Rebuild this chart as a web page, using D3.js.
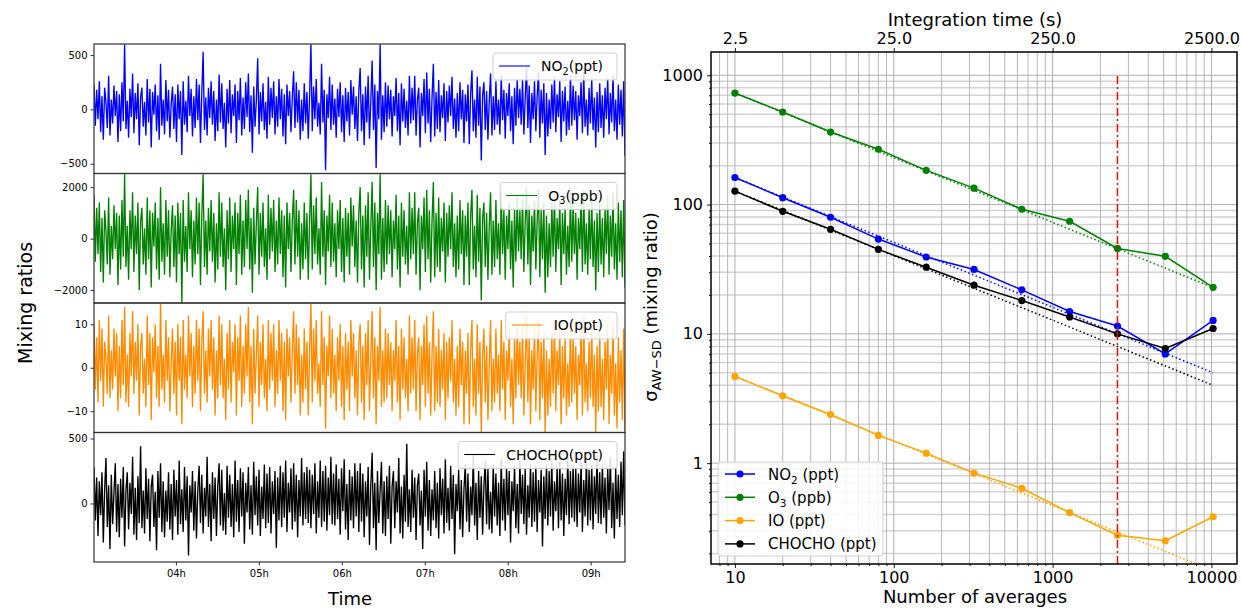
<!DOCTYPE html>
<html>
<head>
<meta charset="utf-8">
<script src="https://cdn.jsdelivr.net/npm/d3@7"></script>
<style>
  body { margin: 0; background: #fff; }
  svg text { font-family: "DejaVu Sans", sans-serif; fill: #000; }
</style>
</head>
<body>
<div id="chart"></div>
<script>
// ---------- left: time series (evenly sampled between timeStart and timeEnd)
const timeStart = '03:00:45';
const timeEnd = '09:24:50';
const hourTicks = ['04:00:00', '05:00:00', '06:00:00', '07:00:00', '08:00:00', '09:00:00'];

const no2Series = [
  230,-150,180,-90,260,-210,120,-280,200,60,-170,310,-240,90,-130,220,-60,170,-300,140,
  -200,250,-110,600,-180,80,-260,190,-70,330,-220,150,-90,240,-330,110,200,-160,70,-240,
  280,-120,190,-350,160,-50,230,-200,130,-280,420,-150,90,-230,270,-110,180,-260,50,210,
  -180,140,-300,230,-90,170,-420,260,-140,80,-210,310,-60,190,-250,120,-170,280,-100,230,
  -310,150,530,-190,110,-240,200,-80,260,-140,170,-290,90,-200,320,-120,240,-180,60,-350,
  190,-130,270,-220,140,-60,230,-310,170,-100,290,-240,110,-180,250,-70,330,-210,130,-400,
  210,-160,90,470,-230,160,-110,240,-190,70,-270,300,-140,200,-80,260,-230,120,-160,280,
  -90,190,-250,140,-320,230,-60,170,-210,110,350,-170,250,-120,180,-280,90,-200,240,-130,
  160,-270,120,600,-200,210,-90,280,-160,60,-230,420,-120,180,-560,140,-80,300,-190,230,
  -140,100,-260,190,-70,250,-210,130,-300,200,-110,160,-240,270,-50,210,-180,120,-290,170,
  380,-200,140,-330,210,-120,310,-270,80,450,-190,230,-540,170,-90,600,-280,130,-210,250,
  -160,220,-90,180,-250,120,-60,290,-200,150,-330,240,-110,190,-170,80,-240,310,-130,200,
  -100,310,-240,90,200,-350,150,-60,280,-220,340,-130,190,-300,110,420,-250,160,-180,270,
  -210,130,-80,240,-290,170,-120,220,-60,300,-180,100,-260,150,-200,250,-90,180,-310,140,
  -110,230,-320,140,360,-200,90,-260,300,-150,210,-470,130,250,-190,170,-280,80,330,-240,
  120,-190,260,-140,90,-230,310,-100,180,-270,150,-60,240,-200,120,-320,200,-150,280,-80,
  190,-140,280,-230,100,390,-170,220,-310,150,-90,260,-200,120,340,-260,180,-130,240,-420,
  150,-250,90,-180,230,-120,300,-210,140,-70,260,-300,170,-110,210,-240,80,-190,310,-150,
  220,-100,170,-280,130,-60,250,-220,340,-160,90,-240,200,-130,280,-190,110,-350,160,-210,
  240,-170,130,-260,200,-90,290,-230,150,-120,310,-200,90,-280,230,-140,180,-250,260,-430
];
const o3Series = [
  1700,-900,1200,-600,1400,-1300,800,-1700,1100,300,-1000,1600,-1400,500,-800,1300,-400,1000,-1800,900,
  -1200,1500,-700,2500,-1100,500,-1600,1100,-400,1800,-1300,900,-600,1400,-2000,700,1200,-1000,400,-1400,
  1600,-800,1100,-1900,1000,-300,1400,-1200,800,-1600,2000,-900,600,-1400,1500,-700,1100,-1500,300,1300,
  -1100,900,-1700,1400,-600,1000,-2500,1500,-900,500,-1300,1800,-400,1100,-1500,700,-1000,1600,-600,1400,
  -1800,900,2500,-1100,700,-1400,1200,-500,1500,-900,1000,-1700,600,-1200,1800,-700,1400,-1100,400,-2000,
  1100,-800,1600,-1300,900,-400,1400,-1800,1000,-600,1700,-1400,700,-1100,1500,-400,1900,-1200,800,-2100,
  1200,-1000,600,2000,-1400,1000,-700,1400,-1100,400,-1600,1700,-800,1200,-500,1500,-1300,700,-1000,1600,
  -600,1100,-1500,900,-1900,1400,-400,1000,-1300,700,1900,-1000,1500,-700,1100,-1600,600,-1200,1400,-800,
  1000,-1600,700,2500,-1200,1300,-600,1600,-1000,400,-1400,2200,-700,1100,-1800,900,-500,1700,-1100,1400,
  -900,600,-1500,1100,-400,1500,-1300,800,-1700,1200,-700,1000,-1400,1600,-300,1300,-1100,700,-1700,1000,
  2000,-1200,900,-1900,1300,-700,1800,-1600,500,2200,-1100,1400,-2000,1000,-600,2500,-1600,800,-1300,1500,
  -1000,1300,-600,1100,-1500,700,-400,1700,-1200,900,-1900,1400,-700,1100,-1000,500,-1400,1800,-800,1200,
  -600,1800,-1400,600,1200,-2000,900,-400,1600,-1300,1900,-800,1100,-1700,700,2200,-1500,1000,-1100,1600,
  -1300,800,-500,1400,-1700,1000,-700,1300,-400,1800,-1100,600,-1500,900,-1200,1500,-600,1100,-1800,900,
  -700,1400,-1800,900,1900,-1200,500,-1500,1700,-900,1200,-2400,800,1400,-1100,1000,-1600,500,1800,-1400,
  700,-1100,1500,-800,600,-1400,1800,-600,1100,-1600,900,-400,1400,-1200,700,-1900,1200,-900,1600,-500,
  1100,-800,1600,-1300,600,2000,-1000,1300,-1800,900,-500,1500,-1200,700,1900,-1500,1100,-800,1400,-2100,
  900,-1500,600,-1100,1400,-700,1700,-1300,800,-400,1500,-1800,1000,-600,1200,-1400,500,-1100,1800,-900,
  1300,-600,1000,-1600,800,-400,1500,-1300,1900,-1000,600,-1400,1200,-800,1600,-1100,700,-2000,1000,-1300,
  1400,-1000,800,-1500,1200,-600,1700,-1400,900,-700,1800,-1200,600,-1600,1400,-900,1100,-1500,1500,-1900
];
const ioSeries = [
  10,-5,7,-8,11,-3,9,-9,6,2,-6,12,-7,4,-5,9,-2,8,-10,5,
  -7,11,-4,14,-8,3,-9,8,-2,13,-6,6,-3,10,-11,5,8,-6,2,-9,
  12,-4,8,-12,7,-1,10,-7,5,-9,15,-5,3,-8,11,-3,7,-10,1,9,
  -6,6,-11,10,-3,7,-13,11,-5,3,-7,12,-2,8,-9,5,-6,11,-3,9,
  -10,6,13,-6,4,-8,9,-2,11,-5,7,-11,4,-7,12,-4,10,-7,2,-12,
  8,-5,11,-8,6,-1,10,-11,7,-3,12,-9,5,-6,10,-2,14,-8,5,-13,
  9,-6,3,12,-9,6,-4,10,-7,2,-10,11,-5,8,-3,10,-9,4,-6,11,
  -3,8,-10,6,-12,9,-2,7,-8,4,13,-6,10,-4,7,-11,3,-8,9,-5,
  6,-11,4,15,-8,9,-3,11,-6,1,-9,13,-4,7,-14,5,-2,12,-7,9,
  -6,3,-10,7,-3,10,-9,5,-12,8,-5,6,-10,11,-2,8,-7,4,-11,6,
  10,-8,5,-12,8,-4,11,-10,2,13,-7,7,-13,5,-3,14,-9,4,-8,9,
  -7,8,-4,6,-10,4,-3,11,-8,5,-12,9,-5,7,-7,2,-10,12,-6,7,
  -5,11,-10,3,7,-12,5,-4,10,-9,12,-6,6,-11,3,13,-10,5,-8,9,
  -9,4,-5,8,-12,6,-7,7,-3,11,-8,2,-11,5,-9,9,-4,6,-13,4,
  -6,8,-13,4,11,-9,2,-11,10,-6,6,-15,3,9,-8,5,-12,1,11,-10,
  2,-8,9,-6,3,-10,11,-5,6,-12,4,-3,9,-9,2,-13,7,-7,10,-4,
  6,-7,10,-11,1,12,-8,7,-13,4,-5,9,-10,3,11,-12,6,-7,8,-15,
  4,-11,2,-9,8,-6,11,-10,4,-4,9,-13,5,-7,7,-11,1,-9,10,-8,
  7,-6,5,-12,3,-4,9,-11,12,-8,1,-10,6,-7,10,-9,3,-15,5,-10,
  8,-9,2,-12,6,-5,10,-13,3,-6,11,-11,1,-14,7,-8,4,-12,9,-15
];
const chochoSeries = [
  280,-130,200,-250,170,-90,240,-300,110,350,-180,140,-350,220,-160,80,310,-220,150,-260,
  190,-110,280,-330,100,240,-200,160,-80,360,-240,120,-280,210,-150,440,-190,100,-230,270,
  -120,190,-290,130,220,-180,90,-360,250,-110,310,-220,170,-260,100,-140,240,-200,150,-280,
  260,-100,180,-240,330,-160,110,-220,280,-130,210,-400,140,-70,250,-210,170,-270,100,290,
  -150,220,-230,120,-100,360,-180,150,-290,240,-120,200,-250,130,310,-170,260,-210,80,-240,
  290,-110,220,-180,150,-260,330,-140,180,-220,270,-100,240,-310,160,-70,280,-200,140,-240,
  320,-90,210,-170,260,-250,130,-120,300,-190,230,-150,280,-230,170,-80,250,-340,200,-130,
  290,-180,240,-110,330,-220,160,-70,270,-200,310,-140,220,-260,180,-100,350,-170,240,-120,
  280,-150,260,-190,220,-80,310,-230,170,-110,330,-180,250,-140,290,-210,200,-90,360,-160,
  230,-170,300,-120,190,-240,270,-60,340,-200,150,-280,260,-130,210,-190,310,-100,250,-220,
  310,-140,230,-260,170,-100,280,-320,140,390,-190,160,-360,250,-150,100,320,-230,170,-250,
  210,-120,290,-310,130,250,-190,170,-70,350,-230,130,-270,220,-140,460,-180,110,-220,260,
  -110,200,-280,140,230,-170,100,-350,260,-100,320,-210,180,-250,110,-130,250,-190,160,-270,
  270,-90,190,-230,340,-150,120,-210,290,-120,220,-390,150,-60,260,-200,180,-260,110,300,
  -140,230,-220,130,-90,370,-170,160,-280,250,-110,210,-240,140,320,-160,270,-200,90,-230,
  300,-100,230,-170,160,-250,340,-130,190,-210,280,-90,250,-300,170,-60,290,-190,150,-230,
  330,-80,220,-160,270,-240,140,-110,310,-180,240,-140,290,-220,180,-70,260,-330,210,-120,
  300,-170,250,-100,340,-210,170,-60,280,-190,320,-130,230,-250,190,-90,360,-160,250,-110,
  290,-140,270,-180,230,-70,320,-220,180,-100,340,-170,260,-130,300,-200,210,-80,370,-150,
  240,-160,310,-110,200,-230,280,-50,350,-190,160,-270,270,-120,220,-180,320,-90,400,-170
];

// ---------- right: Allan deviation vs number of averages
const nAverages = [10, 20, 40, 80, 160, 320, 640, 1280, 2560, 5120, 10240];
const secondsPerAverage = 0.25;
const topTicks = [2.5, 25, 250, 2500];
const no2Sigma = [162, 113, 79.8, 54.1, 39.3, 31.5, 21.9, 14.9, 11.5, 7.0, 12.7];
const o3Sigma = [729, 520, 364, 268, 184, 134, 92, 74.3, 45.8, 39.8, 22.9];
const ioSigma = [4.69, 3.32, 2.38, 1.64, 1.195, 0.837, 0.64, 0.414, 0.277, 0.251, 0.385];
const chochoSigma = [127, 88.7, 64.4, 45, 32.8, 23.8, 18.1, 13.5, 10.0, 7.7, 11.0];
// dotted reference lines: [value at first N, value at last N]
const fitN = [10, 10240];
const no2Fit = [162, 5.0];
const o3Fit = [729, 22.8];
const ioFit = [4.69, 0.147];
const chochoFit = [127, 4.0];
const cutoffN = 2560;
const cutoffTop = 1000;

const W = 1242, H = 610;
const svg = d3.select('#chart').append('svg').attr('width', W).attr('height', H);

function richText(sel, parts, size) {
  let prevSub = false;
  parts.forEach(([s, sub]) => {
    let dy = 0;
    if (sub && !prevSub) dy = size * 0.28;
    if (!sub && prevSub) dy = -size * 0.28;
    sel.append('tspan').text(s)
      .attr('font-size', sub ? size * 0.7 : size)
      .attr('dy', dy);
    prevSub = sub;
  });
}

// ================= LEFT PANELS =================
const parseTime = d3.timeParse('%H:%M:%S');
const t0 = parseTime(timeStart), t1 = parseTime(timeEnd);
const L = { x0: 94, x1: 625, top: 44, h: 129.5 };
const xTime = d3.scaleTime().domain([t0, t1]).range([L.x0, L.x1]);

const panels = [
  { values: no2Series, color: '#0000ff', domain: [-590, 602], ticks: [-500, 0, 500], label: [['NO', false], ['2', true], ['(ppt)', false]] },
  { values: o3Series, color: '#008000', domain: [-2500, 2530], ticks: [-2000, 0, 2000], label: [['O', false], ['3', true], ['(ppb)', false]] },
  { values: ioSeries, color: '#ff8c00', domain: [-14.9, 14.9], ticks: [-10, 0, 10], label: [['IO(ppt)', false]] },
  { values: chochoSeries, color: '#000000', domain: [-450, 546], ticks: [0, 500], label: [['CHOCHO(ppt)', false]] }
];

panels.forEach((p, i) => {
  const y0 = L.top + i * L.h;
  const y = d3.scaleLinear().domain(p.domain).range([y0 + L.h, y0]);
  const g = svg.append('g');
  const clipId = 'clip' + i;
  svg.append('clipPath').attr('id', clipId).append('rect')
    .attr('x', L.x0).attr('y', y0).attr('width', L.x1 - L.x0).attr('height', L.h);

  const n = p.values.length;
  const tAt = k => new Date(+t0 + (t1 - t0) * k / (n - 1));
  const line = d3.line().x((d, k) => xTime(tAt(k))).y(d => y(d));
  g.append('path').datum(p.values)
    .attr('clip-path', `url(#${clipId})`)
    .attr('fill', 'none').attr('stroke', p.color).attr('stroke-width', 1.35)
    .attr('d', line);

  // y axis
  const ya = g.append('g').attr('transform', `translate(${L.x0},0)`)
    .call(d3.axisLeft(y).tickValues(p.ticks).tickSize(3.5).tickPadding(3).tickFormat(d3.format('d')));
  ya.select('.domain').remove();
  ya.selectAll('text').attr('font-size', 10).attr('fill', '#222');
  ya.selectAll('line').attr('stroke', '#333');

  // frame
  g.append('rect').attr('x', L.x0).attr('y', y0).attr('width', L.x1 - L.x0).attr('height', L.h)
    .attr('fill', 'none').attr('stroke', '#333').attr('stroke-width', 1.2);

  // legend
  const lg = g.append('g');
  const txt = lg.append('text').attr('y', y0 + 27).attr('font-size', 14);
  richText(txt, p.label, 14);
  const tw = txt.node().getComputedTextLength();
  const boxR = L.x1 - 8, boxW = tw + 62;
  const boxX = boxR - boxW;
  lg.insert('rect', 'text').attr('x', boxX).attr('y', y0 + 9).attr('width', boxW).attr('height', 27)
    .attr('rx', 3).attr('fill', '#fff').attr('fill-opacity', 0.85)
    .attr('stroke', '#d0d0d0').attr('stroke-width', 1);
  lg.append('line').attr('x1', boxX + 6).attr('x2', boxX + 37).attr('y1', y0 + 22).attr('y2', y0 + 22)
    .attr('stroke', p.color).attr('stroke-width', 1.1);
  txt.attr('x', boxX + 48);
});

// time axis under last panel
const xa = svg.append('g').attr('transform', `translate(0,${L.top + 4 * L.h})`)
  .call(d3.axisBottom(xTime).tickValues(hourTicks.map(parseTime)).tickFormat(d3.timeFormat('%Hh')).tickSize(3.5).tickPadding(4));
xa.select('.domain').remove();
xa.selectAll('text').attr('font-size', 10).attr('fill', '#222');
xa.selectAll('line').attr('stroke', '#333');

svg.append('text').attr('x', 350).attr('y', 605).attr('text-anchor', 'middle').attr('font-size', 18).text('Time');
svg.append('text').attr('transform', 'translate(32,303) rotate(-90)').attr('text-anchor', 'middle')
  .attr('font-size', 19).text('Mixing ratios');

// ================= RIGHT PANEL =================
const R = { x0: 711, x1: 1237, y0: 52, y1: 564 };
const x = d3.scaleLog().domain([7.07, 14480]).range([R.x0, R.x1]);
const y = d3.scaleLog().domain([0.166, 1514]).range([R.y1, R.y0]);
const xTop = d3.scaleLog().domain(x.domain().map(d => d * secondsPerAverage)).range([R.x0, R.x1]);

const rg = svg.append('g');
svg.append('clipPath').attr('id', 'clipR').append('rect')
  .attr('x', R.x0).attr('y', R.y0).attr('width', R.x1 - R.x0).attr('height', R.y1 - R.y0);

function logSteps(domain) {
  const out = [];
  for (let e = -2; e <= 5; e++) for (let k = 1; k <= 9; k++) {
    const v = k * Math.pow(10, e);
    if (v >= domain[0] && v <= domain[1]) out.push({ v, major: k === 1 });
  }
  return out;
}
const xSteps = logSteps(x.domain());
const ySteps = logSteps(y.domain());

// grid
rg.selectAll('.hgrid').data(ySteps).enter().append('line')
  .attr('x1', R.x0).attr('x2', R.x1).attr('y1', d => y(d.v)).attr('y2', d => y(d.v))
  .attr('stroke', d => d.major ? '#b0b0b0' : '#d3d3d3').attr('stroke-width', d => d.major ? 1 : 1.5);
rg.selectAll('.vgrid').data(xSteps).enter().append('line')
  .attr('y1', R.y0).attr('y2', R.y1).attr('x1', d => x(d.v)).attr('x2', d => x(d.v))
  .attr('stroke', '#b0b0b0').attr('stroke-width', d => d.major ? 1 : 0.9);

const series = [
  { name: [['NO', false], ['2', true], [' (ppt)', false]], values: no2Sigma, fit: no2Fit, color: '#0000ff' },
  { name: [['O', false], ['3', true], [' (ppb)', false]], values: o3Sigma, fit: o3Fit, color: '#008000' },
  { name: [['IO (ppt)', false]], values: ioSigma, fit: ioFit, color: '#ffa500' },
  { name: [['CHOCHO (ppt)', false]], values: chochoSigma, fit: chochoFit, color: '#000000' }
];

const plot = rg.append('g').attr('clip-path', 'url(#clipR)');
const lineR = d3.line().x((d, i) => x(nAverages[i])).y(d => y(d));
const fitLine = d3.line().x((d, i) => x(fitN[i])).y(d => y(d));

series.forEach(s => {
  plot.append('path').datum(s.fit).attr('d', fitLine)
    .attr('fill', 'none').attr('stroke', s.color).attr('stroke-width', 1.5).attr('stroke-dasharray', '1.5,2.5');
});
series.forEach(s => {
  plot.append('path').datum(s.values).attr('d', lineR)
    .attr('fill', 'none').attr('stroke', s.color).attr('stroke-width', 1.5);
  plot.selectAll(null).data(s.values).enter().append('circle')
    .attr('cx', (d, i) => x(nAverages[i])).attr('cy', d => y(d)).attr('r', 3.6).attr('fill', s.color);
});

plot.append('line').attr('x1', x(cutoffN)).attr('x2', x(cutoffN))
  .attr('y1', R.y1).attr('y2', y(cutoffTop))
  .attr('stroke', '#ff0000').attr('stroke-width', 1.5).attr('stroke-dasharray', '8,3,2,3');

// axes
const majorX = xSteps.filter(d => d.major).map(d => d.v);
const minorX = xSteps.filter(d => !d.major).map(d => d.v);
const majorY = ySteps.filter(d => d.major).map(d => d.v);
const minorY = ySteps.filter(d => !d.major).map(d => d.v);

function styleAxis(a, size) {
  a.select('.domain').remove();
  a.selectAll('text').attr('font-size', size);
  a.selectAll('line').attr('stroke', '#000').attr('stroke-width', 0.9);
}
styleAxis(rg.append('g').attr('transform', `translate(0,${R.y1})`)
  .call(d3.axisBottom(x).tickValues(minorX).tickSize(2).tickFormat('')), 16);
styleAxis(rg.append('g').attr('transform', `translate(0,${R.y1})`)
  .call(d3.axisBottom(x).tickValues(majorX).tickSize(4).tickPadding(4).tickFormat(d3.format('d'))), 16);
styleAxis(rg.append('g').attr('transform', `translate(${R.x0},0)`)
  .call(d3.axisLeft(y).tickValues(minorY).tickSize(2).tickFormat('')), 16);
styleAxis(rg.append('g').attr('transform', `translate(${R.x0},0)`)
  .call(d3.axisLeft(y).tickValues(majorY).tickSize(4).tickPadding(4).tickFormat(d3.format('d'))), 16);
styleAxis(rg.append('g').attr('transform', `translate(0,${R.y0})`)
  .call(d3.axisTop(xTop).tickValues(topTicks).tickSize(4).tickPadding(4).tickFormat(d3.format('.1f'))), 16);

rg.append('rect').attr('x', R.x0).attr('y', R.y0).attr('width', R.x1 - R.x0).attr('height', R.y1 - R.y0)
  .attr('fill', 'none').attr('stroke', '#000').attr('stroke-width', 1.5);

// legend
const leg = rg.append('g');
leg.append('rect').attr('x', 718).attr('y', 462).attr('width', 165).attr('height', 94).attr('rx', 3)
  .attr('fill', '#fff').attr('fill-opacity', 0.85).attr('stroke', '#d0d0d0');
series.forEach((s, i) => {
  const yy = 474 + i * 23.3;
  leg.append('line').attr('x1', 725).attr('x2', 755).attr('y1', yy).attr('y2', yy)
    .attr('stroke', s.color).attr('stroke-width', 1.5);
  leg.append('circle').attr('cx', 740).attr('cy', yy).attr('r', 3.6).attr('fill', s.color);
  const t = leg.append('text').attr('x', 768).attr('y', yy + 5.5).attr('font-size', 15);
  richText(t, s.name, 15);
});

// labels
svg.append('text').attr('x', 975).attr('y', 26).attr('text-anchor', 'middle').attr('font-size', 18).text('Integration time (s)');
svg.append('text').attr('x', 975).attr('y', 603).attr('text-anchor', 'middle').attr('font-size', 18).text('Number of averages');
const yl = svg.append('text').attr('transform', 'translate(657,307) rotate(-90)').attr('text-anchor', 'middle').attr('font-size', 18);
yl.append('tspan').text('σ');
yl.append('tspan').text('AW−SD').attr('font-size', 13).attr('dy', 4);
yl.append('tspan').text(' (mixing ratio)').attr('dy', -4);
</script>
</body>
</html>
